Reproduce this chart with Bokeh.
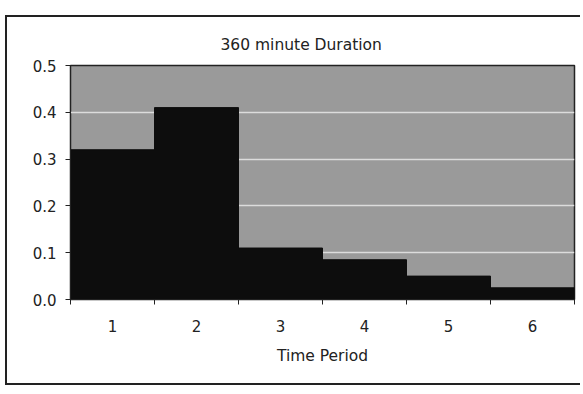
from bokeh.plotting import figure
from bokeh.models import FixedTicker, ColumnDataSource
from bokeh.embed import file_html
from bokeh.resources import INLINE

periods = [1, 2, 3, 4, 5, 6]
fractions = [0.32, 0.41, 0.11, 0.085, 0.05, 0.025]
y_ticks = [0.0, 0.1, 0.2, 0.3, 0.4, 0.5]
x_labels = {i: str(i) for i in periods}

src = ColumnDataSource(data=dict(x=periods, top=fractions))

p = figure(width=575, height=370, output_backend="svg", toolbar_location=None,
           x_range=(0.5, 6.5), y_range=(0, 0.5),
           min_border_left=63, min_border_right=8, min_border_top=48, min_border_bottom=88,
           title="360 minute Duration")
p.margin = (15, 0, 0, 5)
p.styles = {"border-left": "2px solid #222", "border-top": "2px solid #222",
            "border-bottom": "2px solid #222", "box-sizing": "border-box"}

p.title.text_font = "DejaVu Sans"
p.title.text_font_size = "15.5px"
p.title.text_font_style = "normal"
p.title.text_color = "#222"
p.title.align = "left"
p.title.offset = 150
p.title.standoff = 23

p.background_fill_color = "#9a9a9a"
p.border_fill_color = "white"
p.outline_line_color = "#222"
p.outline_line_width = 1.5

p.vbar(x="x", top="top", width=1.0, source=src, fill_color="#0d0d0d", line_color="#0d0d0d")

p.xaxis.ticker = FixedTicker(ticks=periods, minor_ticks=[0.5, 1.5, 2.5, 3.5, 4.5, 5.5, 6.5])
p.xaxis.major_label_overrides = x_labels
p.xaxis.major_tick_out = 0
p.xaxis.major_tick_in = 0
p.xaxis.minor_tick_out = 5
p.xaxis.minor_tick_in = 0
p.xaxis.major_label_standoff = 15
p.xaxis.axis_label = "Time Period"
p.xaxis.axis_label_standoff = 12

p.yaxis.ticker = FixedTicker(ticks=y_ticks, minor_ticks=[])
p.yaxis.major_label_overrides = {t: f"{t:.1f}" for t in y_ticks}
p.yaxis.major_tick_out = 5
p.yaxis.major_tick_in = 0
p.yaxis.minor_tick_out = 0
p.yaxis.major_label_standoff = 9

for ax in (p.xaxis, p.yaxis):
    ax.axis_line_color = "#222"
    ax.major_tick_line_color = "#222"
    ax.minor_tick_line_color = "#222"
    ax.major_label_text_font = "DejaVu Sans"
    ax.major_label_text_font_size = "15px"
    ax.major_label_text_color = "#222"
    ax.axis_label_text_font = "DejaVu Sans"
    ax.axis_label_text_font_size = "15.5px"
    ax.axis_label_text_font_style = "normal"
    ax.axis_label_text_color = "#222"

p.xgrid.grid_line_color = None
p.ygrid.grid_line_color = "#dcdcdc"
p.ygrid.grid_line_width = 1.5

open("out.html", "w").write(file_html(p, INLINE))
